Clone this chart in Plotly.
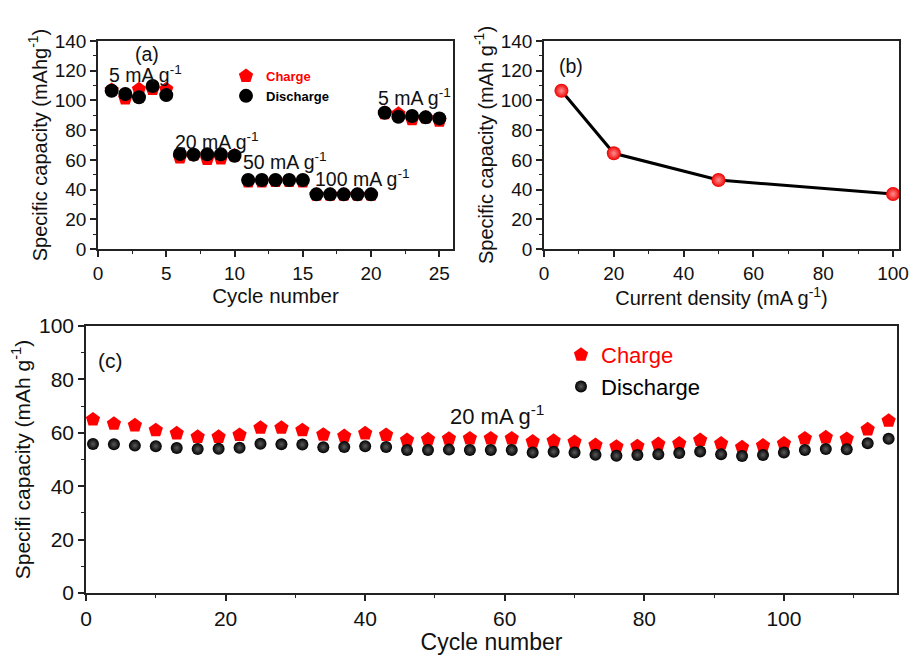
import plotly.graph_objects as go

# ---------------- data ----------------
cycles_a = [1, 2, 3, 4, 5, 6, 7, 8, 9, 10, 11, 12, 13, 14, 15, 16, 17, 18, 19, 20, 21, 22, 23, 24, 25]
charge_a = [107.0, 101.4, 107.5, 107.7, 107.5, 61.7, 63.5, 60.6, 61.0, 63.0,
            45.5, 45.5, 45.8, 45.8, 45.5, 36.5, 36.5, 36.5, 36.5, 36.5,
            91.5, 91.0, 87.3, 88.5, 86.4]
discharge_a = [106.5, 104.3, 102.1, 109.7, 103.6, 63.9, 63.5, 63.7, 63.7, 62.8,
               46.4, 46.4, 46.4, 46.4, 46.4, 36.8, 36.8, 36.8, 36.8, 36.8,
               91.7, 89.0, 89.5, 88.6, 87.9]

current_b = [5, 20, 50, 100]
capacity_b = [106.5, 64.4, 46.4, 37.0]

cycles_c = [1, 4, 7, 10, 13, 16, 19, 22, 25, 28, 31, 34, 37, 40, 43, 46, 49, 52, 55, 58,
            61, 64, 67, 70, 73, 76, 79, 82, 85, 88, 91, 94, 97, 100, 103, 106, 109, 112, 115]
charge_c = [65.0, 63.4, 62.8, 61.0, 59.8, 58.5, 58.5, 59.2, 61.9, 61.9, 61.0, 59.3, 58.8, 59.8,
            59.2, 57.3, 57.6, 57.8, 57.9, 57.9, 57.9, 56.7, 57.0, 56.6, 55.4, 54.8, 55.0, 55.8,
            56.0, 57.3, 56.0, 54.6, 55.2, 56.0, 57.9, 58.3, 57.7, 61.3, 64.5]
discharge_c = [55.8, 55.7, 55.2, 55.0, 54.3, 53.9, 54.0, 54.4, 55.9, 55.7, 55.6, 54.6, 54.7, 55.0,
               54.7, 53.6, 53.6, 53.7, 53.6, 53.6, 53.6, 52.6, 52.9, 52.6, 51.8, 51.4, 51.7, 52.0,
               52.4, 53.0, 52.0, 51.3, 51.7, 52.6, 53.6, 53.9, 53.8, 56.1, 57.8]

rate_labels_a = ["5 mA g<sup>-1</sup>", "20 mA g<sup>-1</sup>", "50 mA g<sup>-1</sup>",
                 "100 mA g<sup>-1</sup>", "5 mA g<sup>-1</sup>"]
rate_x_a = [3.5, 8.7, 13.7, 19.4, 23.2]
rate_y_a = [117.5, 73, 59.4, 47.7, 102.5]

FONT = "Arial, 'Liberation Sans', sans-serif"
W, H = 909, 655

fig = go.Figure()

# ---- panel (a)
fig.add_trace(go.Scatter(x=cycles_a, y=charge_a, mode="markers",
                         name="<b><span style='color:#ff0000'>Charge</span></b>",
                         marker=dict(symbol="pentagon", size=15, color="#ff0000"),
                         xaxis="x", yaxis="y", legend="legend"))
fig.add_trace(go.Scatter(x=cycles_a, y=discharge_a, mode="markers", name="<b>Discharge</b>",
                         marker=dict(symbol="circle", size=14, color="#000000"),
                         xaxis="x", yaxis="y", legend="legend"))

# ---- panel (b)
fig.add_trace(go.Scatter(x=current_b, y=capacity_b, mode="lines+markers", showlegend=False,
                         line=dict(color="#000000", width=3),
                         marker=dict(symbol="circle", size=14, color="#ee0000",
                                     gradient=dict(type="radial", color="#ff9090")),
                         xaxis="x2", yaxis="y2"))

# ---- panel (c)
fig.add_trace(go.Scatter(x=cycles_c, y=charge_c, mode="markers",
                         name="<span style='color:#ff0000'>Charge</span>",
                         marker=dict(symbol="pentagon", size=15, color="#ff0000"),
                         xaxis="x3", yaxis="y3", legend="legend2"))
fig.add_trace(go.Scatter(x=cycles_c, y=discharge_c, mode="markers", name="Discharge",
                         marker=dict(symbol="circle", size=12, color="#000000",
                                     gradient=dict(type="radial", color="#5a5a5a")),
                         xaxis="x3", yaxis="y3", legend="legend2"))


def px_x(p):
    return p / W


def px_y(p):
    return (H - p) / H


axis_common = dict(showline=True, linecolor="#222222", linewidth=1.5, mirror=True,
                   ticks="outside", ticklen=6, tickwidth=1.5, tickcolor="#222222",
                   showgrid=False, zeroline=False, automargin=False,
                   tickfont=dict(family=FONT, size=19, color="#111111"))
big_ticks = dict(family=FONT, size=21, color="#111111")
minor_common = dict(ticks="outside", ticklen=3.5, tickwidth=1.2, tickcolor="#222222")

title_font = dict(family=FONT, size=20, color="#111111")

fig.update_layout(
    width=W, height=H,
    margin=dict(l=0, r=0, t=0, b=0),
    paper_bgcolor="white", plot_bgcolor="white",
    font=dict(family=FONT, color="#111111"),
    xaxis=dict(axis_common, domain=[px_x(98), px_x(453)], range=[0, 26], tickvals=[0, 5, 10, 15, 20, 25],
               minor=dict(minor_common, dtick=2.5, tick0=0),
               title=dict(text="Cycle number", font=dict(family=FONT, size=20.5, color="#111111"), standoff=4),
               anchor="y"),
    yaxis=dict(axis_common, domain=[px_y(249), px_y(41)], range=[0, 140], dtick=20,
               minor=dict(minor_common, dtick=10),
               title=dict(text="Specific capacity (mAhg<sup>-1</sup>)", font=title_font, standoff=2),
               anchor="x"),
    xaxis2=dict(axis_common, domain=[px_x(544), px_x(899)], range=[0, 101.7], dtick=20,
                minor=dict(minor_common, dtick=10),
                title=dict(text="Current density (mA g<sup>-1</sup>)", font=title_font, standoff=6),
                anchor="y2"),
    yaxis2=dict(axis_common, domain=[px_y(249), px_y(41)], range=[0, 140], dtick=20,
                minor=dict(minor_common, dtick=10),
                title=dict(text="Specific capacity (mAh g<sup>-1</sup>)", font=title_font, standoff=2),
                anchor="x2"),
    xaxis3=dict(axis_common, domain=[px_x(86), px_x(897)], range=[0, 116.2], dtick=20,
                tickfont=big_ticks,
                minor=dict(minor_common, dtick=10),
                title=dict(text="Cycle number", font=dict(family=FONT, size=23, color="#111111"), standoff=2),
                anchor="y3"),
    yaxis3=dict(axis_common, domain=[px_y(593), px_y(326)], range=[0, 100], dtick=20,
                tickfont=big_ticks,
                minor=dict(minor_common, dtick=10),
                title=dict(text="Specifi capacity (mAh g<sup>-1</sup>)",
                           font=dict(family=FONT, size=21, color="#111111"), standoff=3),
                anchor="x3"),
    legend=dict(x=px_x(226), y=px_y(61), xanchor="left", yanchor="top",
                bgcolor="rgba(0,0,0,0)", font=dict(family=FONT, size=13, color="#000000"),
                tracegroupgap=0, itemsizing="trace"),
    legend2=dict(x=px_x(561), y=px_y(334), xanchor="left", yanchor="top",
                 bgcolor="rgba(0,0,0,0)", font=dict(family=FONT, size=22, color="#000000"),
                 tracegroupgap=0),
)

annotations = []
label_font = dict(family=FONT, size=19.5, color="#111111")
# panel labels
annotations.append(dict(text="(a)", x=3.6, y=131.5, xref="x", yref="y", showarrow=False, font=label_font))
annotations.append(dict(text="(b)", x=7.7, y=123, xref="x2", yref="y2", showarrow=False, font=label_font))
annotations.append(dict(text="(c)", x=3.5, y=87, xref="x3", yref="y3", showarrow=False,
                        font=dict(family=FONT, size=21, color="#111111")))
for t, xv, yv in zip(rate_labels_a, rate_x_a, rate_y_a):
    annotations.append(dict(text=t, x=xv, y=yv, xref="x", yref="y", showarrow=False, font=label_font))
annotations.append(dict(text="20 mA g<sup>-1</sup>", x=58.9, y=66.5, xref="x3", yref="y3",
                        showarrow=False, font=dict(family=FONT, size=22, color="#111111")))
fig.update_layout(annotations=annotations)

fig.write_html("out.html")
